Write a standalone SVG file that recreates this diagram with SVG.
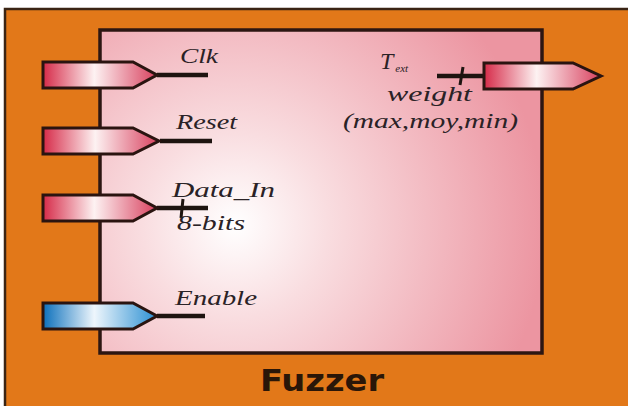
<svg xmlns="http://www.w3.org/2000/svg" width="628" height="406" viewBox="0 0 628 406">
<defs>
<radialGradient id="bg" cx="235" cy="225" r="310" gradientUnits="userSpaceOnUse">
<stop offset="0" stop-color="#ffffff"/>
<stop offset="0.3" stop-color="#f9dde0"/>
<stop offset="1" stop-color="#ec95a1"/>
</radialGradient>
<linearGradient id="red" x1="0" y1="0" x2="1" y2="0">
<stop offset="0" stop-color="#d62a48"/>
<stop offset="0.45" stop-color="#fdf2f2"/>
<stop offset="1" stop-color="#d8405e"/>
</linearGradient>
<linearGradient id="blue" x1="0" y1="0" x2="1" y2="0">
<stop offset="0" stop-color="#0c70bc"/>
<stop offset="0.45" stop-color="#eef6fc"/>
<stop offset="1" stop-color="#2a8fd2"/>
</linearGradient>
</defs>
<style>
.port{stroke:#2a1410;stroke-width:3;stroke-linejoin:miter}
.wire{stroke:#1e1410;stroke-width:4.5;fill:none}
.tick{stroke:#1e1410;stroke-width:3;fill:none}
.lbl{font-family:"Liberation Serif",serif;font-style:italic;font-size:20px;fill:#2a2226}
.big{font-size:24px}
.sub{font-size:11px}
</style>
<rect x="0" y="0" width="628" height="406" fill="#ffffff"/>
<rect id="frame" x="5" y="9" width="640" height="410" fill="#e27819" stroke="#3a2414" stroke-width="2.5"/>
<g id="fuzzer">
<rect x="100" y="30" width="442" height="323" fill="url(#bg)" stroke="#2c1612" stroke-width="3.5"/>
<text x="322" y="391" text-anchor="middle" font-family="'DejaVu Sans',sans-serif" font-weight="bold" font-size="30" textLength="124" lengthAdjust="spacingAndGlyphs" fill="#2a1608">Fuzzer</text>
</g>
<g id="connectors">
<line class="wire" x1="157" y1="75" x2="208" y2="75"/>
<line class="wire" x1="160" y1="141" x2="212" y2="141"/>
<line class="wire" x1="157" y1="208" x2="208" y2="208"/>
<line class="tick" x1="183" y1="199" x2="181" y2="218"/>
<line class="wire" x1="157" y1="316" x2="205" y2="316"/>
<line class="wire" x1="437" y1="76" x2="484" y2="76"/>
<line class="tick" x1="463" y1="67" x2="460" y2="85"/>
</g>
<g id="clk">
<polygon class="port" points="43,62 133,62 157,75 133,88 43,88" fill="url(#red)"/>
<text class="lbl" x="180" y="63" textLength="38" lengthAdjust="spacingAndGlyphs">Clk</text>
</g>
<g id="reset">
<polygon class="port" points="43,128 133,128 159,141 133,154 43,154" fill="url(#red)"/>
<text class="lbl" x="176" y="129" textLength="61" lengthAdjust="spacingAndGlyphs">Reset</text>
</g>
<g id="data_in">
<polygon class="port" points="43,195 133,195 157,208 133,221 43,221" fill="url(#red)"/>
<text class="lbl" x="172" y="197" textLength="103" lengthAdjust="spacingAndGlyphs">Data_In</text>
<text class="lbl" x="177" y="230" textLength="68" lengthAdjust="spacingAndGlyphs">8-bits</text>
</g>
<g id="enable">
<polygon class="port" points="43,303 133,303 157,316 133,329 43,329" fill="url(#blue)"/>
<text class="lbl" x="175" y="305" textLength="82" lengthAdjust="spacingAndGlyphs">Enable</text>
</g>
<g id="weight">
<polygon class="port" points="484,63 573,63 601,76 573,89 484,89" fill="url(#red)"/>
<text class="lbl big" x="380" y="69">T<tspan class="sub" dx="2" dy="3">ext</tspan></text>
<text class="lbl" x="387" y="101" textLength="85" lengthAdjust="spacingAndGlyphs">weight</text>
<text class="lbl" x="343" y="128" textLength="175" lengthAdjust="spacingAndGlyphs">(max,moy,min)</text>
</g>
</svg>
